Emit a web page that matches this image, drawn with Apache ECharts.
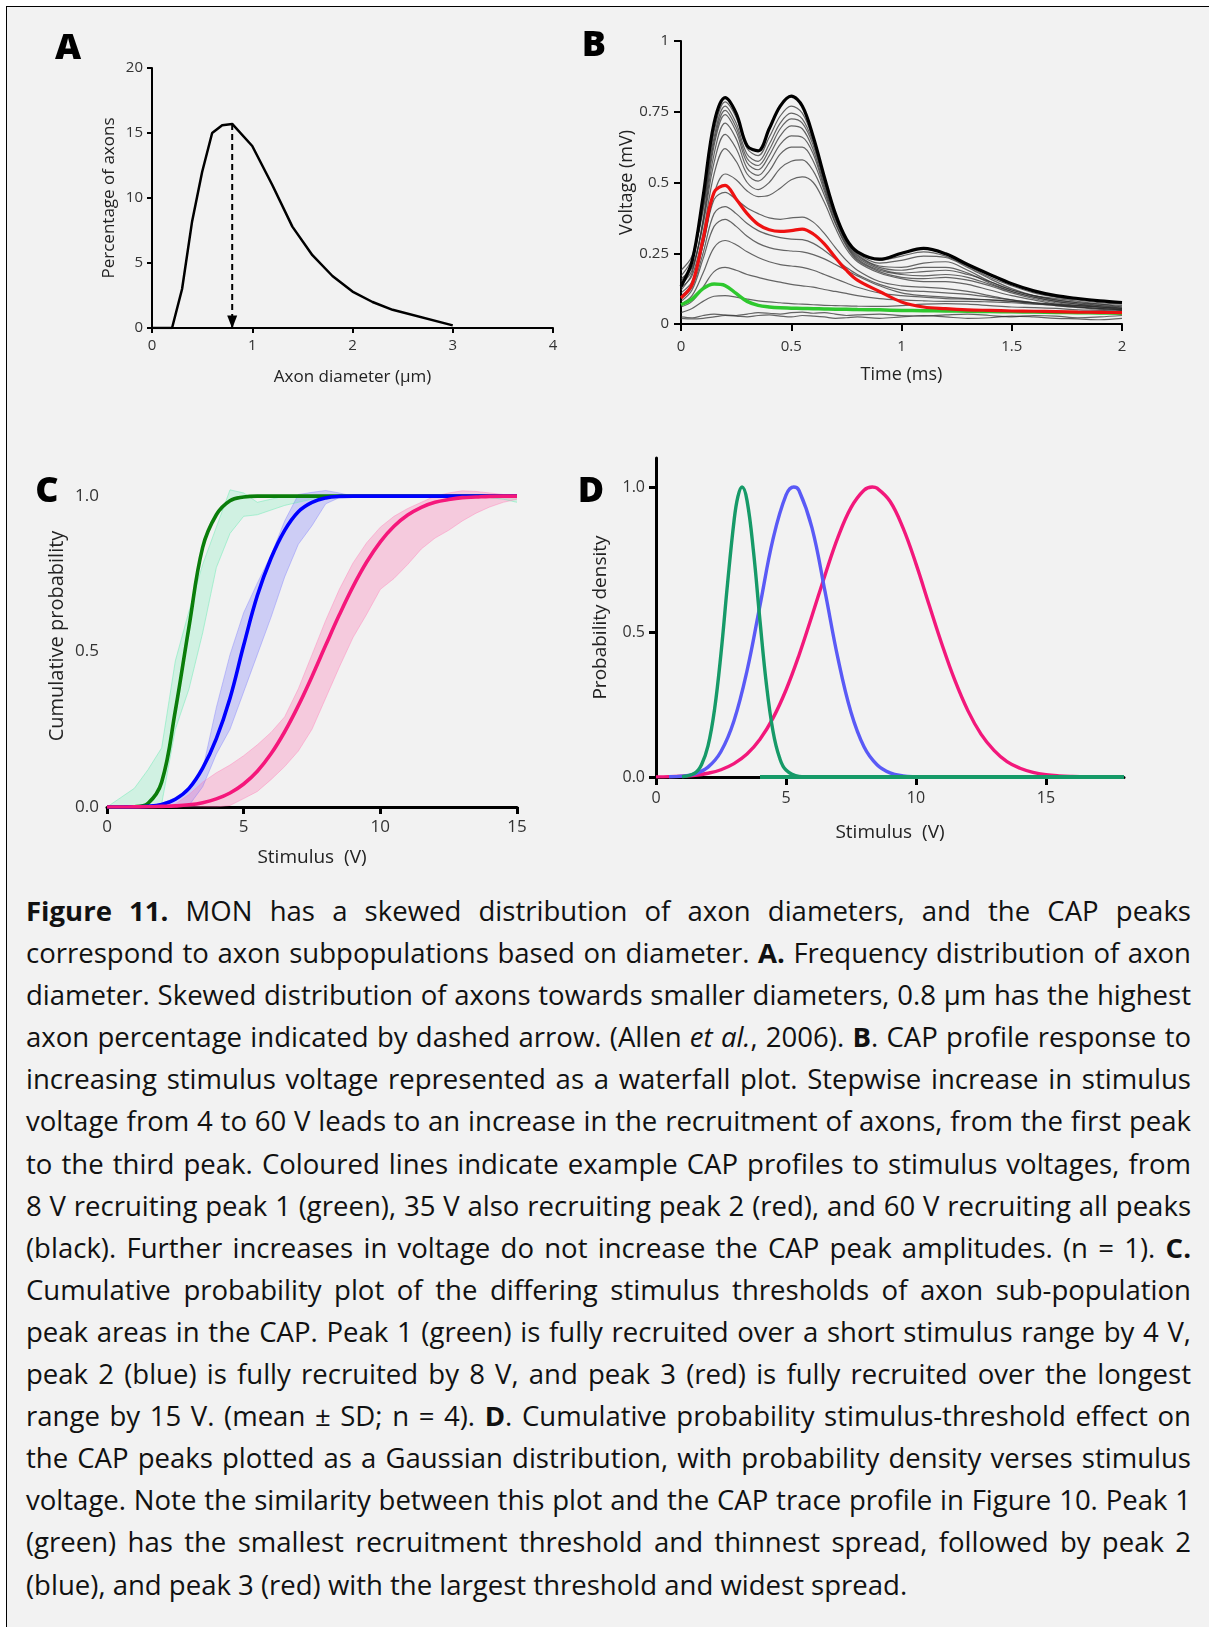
<!DOCTYPE html>
<html><head><meta charset="utf-8">
<script src="https://cdn.jsdelivr.net/npm/echarts@6/dist/echarts.min.js"></script>
<style>
html,body{margin:0;padding:0;background:#fff;}
#frame{position:absolute;left:6px;top:6px;width:1203px;height:1621px;background:#f2f2f2;border-top:1px solid #000;border-left:1px solid #000;box-sizing:border-box;}
#chart{position:absolute;left:0;top:0;width:1209px;height:880px;}
#caption{position:absolute;left:26px;top:890px;width:1165px;font-family:'Open Sans',sans-serif;color:#111;font-size:24px;line-height:42.1px;}
#caption .ln{text-align:justify;text-align-last:justify;height:42.1px;white-space:nowrap;}
#caption .ln.last{text-align-last:left;}
</style></head><body>
<div id="frame"></div>
<div id="chart"></div>
<div id="caption"></div>
<script>
// ---------- Panel A: axon diameter distribution ----------
const diamA = [0, 0.2, 0.3, 0.4, 0.5, 0.6, 0.7, 0.8, 1.0, 1.2, 1.4, 1.6, 1.8, 2.0, 2.2, 2.4, 3.0];
const pctA  = [0, 0, 3.0, 8.2, 12.0, 15.0, 15.6, 15.7, 14.0, 11.0, 7.8, 5.6, 4.0, 2.8, 2.0, 1.4, 0.2];

// ---------- Panel B: CAP waterfall (time in ms, voltage in mV) ----------
const tB = [0,0.05,0.1,0.15,0.2,0.25,0.3,0.35,0.4,0.45,0.5,0.55,0.6,0.65,0.7,0.75,0.8,0.9,1.0,1.1,1.2,1.3,1.4,1.5,1.6,1.7,1.8,1.9,2.0];
const black60V = [0.133,0.22,0.45,0.71,0.80,0.745,0.63,0.612,0.69,0.77,0.805,0.77,0.661,0.52,0.39,0.30,0.255,0.229,0.25,0.267,0.248,0.21,0.175,0.142,0.117,0.1,0.09,0.082,0.076];
const red35V   = [0.092,0.14,0.30,0.465,0.49,0.442,0.39,0.352,0.333,0.327,0.33,0.335,0.318,0.283,0.235,0.19,0.155,0.115,0.078,0.06,0.054,0.05,0.048,0.046,0.045,0.044,0.042,0.041,0.04];
const green8V  = [0.068,0.088,0.125,0.141,0.136,0.108,0.08,0.066,0.06,0.057,0.056,0.055,0.054,0.053,0.052,0.052,0.051,0.05,0.048,0.047,0.046,0.045,0.044,0.043,0.042,0.041,0.04,0.039,0.038];
const grayU1 = [0.15,0.22,0.42,0.68,0.785,0.73,0.62,0.595,0.66,0.735,0.77,0.745,0.65,0.51,0.39,0.30,0.255,0.225,0.24,0.255,0.24,0.205,0.165,0.135,0.11,0.095,0.085,0.075,0.07];
const grayU2 = [0.17,0.23,0.41,0.66,0.77,0.71,0.60,0.575,0.635,0.71,0.745,0.725,0.64,0.505,0.385,0.30,0.25,0.215,0.225,0.24,0.235,0.20,0.16,0.125,0.10,0.085,0.075,0.07,0.06];
const grayU3 = [0.19,0.24,0.40,0.645,0.755,0.695,0.585,0.56,0.615,0.69,0.725,0.71,0.63,0.50,0.38,0.295,0.245,0.205,0.20,0.215,0.22,0.19,0.15,0.12,0.10,0.09,0.08,0.07,0.065];
const grayU4 = [0.12,0.18,0.37,0.63,0.74,0.68,0.57,0.545,0.595,0.665,0.70,0.69,0.615,0.49,0.375,0.29,0.24,0.20,0.19,0.20,0.20,0.18,0.145,0.115,0.095,0.08,0.07,0.065,0.06];
const grayU5 = [0.14,0.19,0.36,0.60,0.71,0.655,0.55,0.525,0.57,0.635,0.665,0.66,0.60,0.48,0.37,0.285,0.235,0.195,0.18,0.185,0.19,0.175,0.15,0.12,0.10,0.085,0.075,0.065,0.055];
const grayU6 = [0.16,0.20,0.35,0.57,0.67,0.62,0.53,0.505,0.54,0.60,0.625,0.625,0.575,0.47,0.36,0.28,0.23,0.19,0.175,0.17,0.175,0.165,0.14,0.115,0.095,0.08,0.07,0.06,0.055];
const grayU7 = [0.13,0.17,0.32,0.53,0.62,0.575,0.50,0.475,0.50,0.55,0.575,0.58,0.54,0.455,0.355,0.275,0.225,0.185,0.165,0.16,0.165,0.155,0.135,0.11,0.09,0.075,0.065,0.06,0.05];
const grayU8 = [0.11,0.15,0.28,0.46,0.53,0.51,0.47,0.45,0.455,0.48,0.51,0.52,0.50,0.43,0.34,0.265,0.22,0.18,0.16,0.15,0.15,0.14,0.12,0.10,0.085,0.07,0.06,0.055,0.05];
const grayL1 = [0.10,0.14,0.28,0.44,0.465,0.44,0.41,0.39,0.375,0.37,0.375,0.378,0.36,0.32,0.27,0.225,0.19,0.15,0.135,0.13,0.125,0.115,0.10,0.085,0.075,0.065,0.058,0.052,0.048];
const grayL2 = [0.09,0.13,0.25,0.39,0.415,0.39,0.355,0.33,0.315,0.305,0.30,0.298,0.285,0.26,0.23,0.20,0.175,0.14,0.12,0.115,0.11,0.105,0.095,0.085,0.075,0.068,0.06,0.055,0.05];
const grayL3 = [0.08,0.12,0.23,0.345,0.37,0.345,0.31,0.285,0.27,0.262,0.258,0.255,0.245,0.23,0.21,0.19,0.17,0.135,0.11,0.10,0.095,0.09,0.085,0.08,0.072,0.065,0.06,0.055,0.05];
const grayL4 = [0.07,0.10,0.18,0.27,0.295,0.28,0.255,0.235,0.22,0.21,0.205,0.20,0.19,0.175,0.16,0.145,0.13,0.11,0.10,0.095,0.09,0.088,0.085,0.08,0.075,0.07,0.065,0.06,0.055];
const grayL5 = [0.06,0.08,0.13,0.185,0.20,0.19,0.175,0.165,0.155,0.148,0.14,0.135,0.13,0.122,0.115,0.108,0.10,0.09,0.085,0.082,0.08,0.08,0.078,0.075,0.07,0.068,0.065,0.06,0.055];
const grayL6 = [0.04,0.055,0.08,0.098,0.10,0.095,0.088,0.082,0.078,0.075,0.072,0.07,0.068,0.066,0.065,0.064,0.063,0.062,0.065,0.07,0.072,0.07,0.065,0.06,0.058,0.055,0.05,0.048,0.045];
const grayL7 = [0.025,0.022,0.03,0.035,0.032,0.03,0.035,0.04,0.038,0.035,0.04,0.042,0.038,0.04,0.035,0.03,0.032,0.035,0.03,0.028,0.032,0.035,0.03,0.025,0.03,0.028,0.022,0.025,0.03];
const grayL8 = [0.02,0.018,0.02,0.025,0.03,0.028,0.025,0.03,0.032,0.028,0.025,0.03,0.028,0.025,0.02,0.022,0.025,0.02,0.025,0.03,0.025,0.02,0.022,0.028,0.025,0.02,0.018,0.015,0.02];
const grayTraces = [grayU1,grayU2,grayU3,grayU4,grayU5,grayU6,grayU7,grayU8,grayL1,grayL2,grayL3,grayL4,grayL5,grayL6,grayL7,grayL8];

// ---------- Panel C: cumulative probability vs stimulus (V) ----------
const stimC = [0,0.5,1,1.5,2,2.5,3,3.5,4,4.5,5,5.5,6,6.5,7,7.5,8,8.5,9,9.5,10,10.5,11,11.5,12,12.5,13,13.5,14,14.5,15];
const peak1Fit = [0,0,0.001,0.012,0.08,0.31,0.58,0.835,0.94,0.985,0.997,1,1,1,1,1,1,1,1,1,1,1,1,1,1,1,1,1,1,1,1];
const peak2Fit = [0,0,0.0005,0.002,0.008,0.025,0.06,0.125,0.22,0.35,0.52,0.68,0.8,0.89,0.95,0.98,0.994,0.999,1,1,1,1,1,1,1,1,1,1,1,1,1];
const peak3Fit = [0,0,0.0003,0.0007,0.002,0.0035,0.007,0.014,0.026,0.045,0.074,0.115,0.171,0.242,0.326,0.42,0.52,0.618,0.709,0.788,0.853,0.903,0.939,0.964,0.98,0.989,0.995,0.997,0.999,1,1];
const peak1Lo = [0,0,0,0.002,0.01,0.25,0.38,0.56,0.77,0.88,0.935,0.94,0.955,0.97,0.98,0.99,0.995,1,1,1,1,1,1,1,1,1,1,1,0.995,0.99,0.98];
const peak1Hi = [0,0.03,0.06,0.12,0.19,0.47,0.63,0.78,0.9,1.02,1.01,0.98,0.99,1,1,1,1,1,1,1,1,1,1,1,1,1,1,1,1,1,1];
const peak2Lo = [0,0,0,0,0,0,0.005,0.065,0.17,0.25,0.37,0.49,0.61,0.74,0.845,0.905,0.975,0.995,1,1,1,1,1,1,1,1,1,1,1,1,1];
const peak2Hi = [0,0,0,0.005,0.012,0.03,0.06,0.12,0.32,0.49,0.625,0.72,0.81,0.92,1.005,1.012,1.018,1.01,1,1,1,1,1,1,1,1,1,1,1,1,1];
const peak3Lo = [0,0,0,0,0,0,0,0,0,0.005,0.027,0.05,0.088,0.13,0.18,0.25,0.35,0.45,0.545,0.62,0.7,0.735,0.78,0.83,0.865,0.89,0.92,0.945,0.965,0.98,0.99];
const peak3Hi = [0,0,0,0,0,0.01,0.04,0.08,0.11,0.135,0.165,0.2,0.24,0.29,0.38,0.49,0.6,0.7,0.785,0.85,0.9,0.935,0.96,0.98,1,1.01,1.017,1.015,1.01,1.005,1];

// ---------- Panel D: probability density vs stimulus (V) ----------
const stimDgreen = [1.0,1.5,1.75,2.0,2.25,2.5,2.75,3.0,3.15,3.31,3.5,3.75,4.0,4.25,4.5,4.75,5.0,5.5,6.0];
const densGreen  = [0.001,0.014,0.042,0.107,0.232,0.426,0.665,0.882,0.967,1.0,0.954,0.777,0.538,0.317,0.158,0.067,0.024,0.002,0];
const stimDblue  = [0.5,1,1.5,2,2.5,3,3.5,4,4.5,5,5.3,5.5,6,6.5,7,7.5,8,8.5,9,9.5,10,10.5,11];
const densBlue   = [0.001,0.003,0.011,0.034,0.088,0.194,0.366,0.592,0.82,0.972,1.0,0.988,0.859,0.64,0.408,0.223,0.104,0.042,0.014,0.004,0.001,0,0];
const stimDpink  = [0,0.5,1,1.5,2,2.5,3,3.5,4,4.5,5,5.5,6,6.5,7,7.5,8,8.32,8.5,9,9.5,10,10.5,11,11.5,12,12.5,13,13.5,14,14.5,15,15.5,16,16.5,17,18];
const densPink   = [0.0005,0.0013,0.003,0.006,0.013,0.025,0.046,0.079,0.13,0.203,0.30,0.42,0.556,0.696,0.827,0.929,0.989,1.0,0.996,0.951,0.859,0.735,0.595,0.457,0.332,0.228,0.148,0.092,0.053,0.03,0.016,0.008,0.004,0.002,0.001,0,0];
const baseGreenX = [4, 18];
const baseGreenY = [0, 0];

// ---------- Caption ----------
const captionLines = [
 '<b>Figure 11.</b> MON has a skewed distribution of axon diameters, and the CAP peaks',
 'correspond to axon subpopulations based on diameter. <b>A.</b> Frequency distribution of axon',
 'diameter. Skewed distribution of axons towards smaller diameters, 0.8 µm has the highest',
 'axon percentage indicated by dashed arrow. (Allen <i>et al.</i>, 2006). <b>B</b>. CAP profile response to',
 'increasing stimulus voltage represented as a waterfall plot. Stepwise increase in stimulus',
 'voltage from 4 to 60 V leads to an increase in the recruitment of axons, from the first peak',
 'to the third peak. Coloured lines indicate example CAP profiles to stimulus voltages, from',
 '8 V recruiting peak 1 (green), 35 V also recruiting peak 2 (red), and 60 V recruiting all peaks',
 '(black). Further increases in voltage do not increase the CAP peak amplitudes. (n = 1). <b>C.</b>',
 'Cumulative probability plot of the differing stimulus thresholds of axon sub-population',
 'peak areas in the CAP. Peak 1 (green) is fully recruited over a short stimulus range by 4 V,',
 'peak 2 (blue) is fully recruited by 8 V, and peak 3 (red) is fully recruited over the longest',
 'range by 15 V. (mean ± SD; n = 4). <b>D</b>. Cumulative probability stimulus-threshold effect on',
 'the CAP peaks plotted as a Gaussian distribution, with probability density verses stimulus',
 'voltage. Note the similarity between this plot and the CAP trace profile in Figure 10. Peak 1',
 '(green) has the smallest recruitment threshold and thinnest spread, followed by peak 2',
 '(blue), and peak 3 (red) with the largest threshold and widest spread.'
];

// ================= build =================
const FONT = "'Open Sans', sans-serif";
const pairs = (xs, ys) => xs.map((x, i) => [x, ys[i]]);

function axisBase(o) {
  return Object.assign({
    nameLocation: 'middle',
    nameTextStyle: { fontSize: 17, color: '#222', fontFamily: FONT },
    axisLine: { onZero: false, lineStyle: { color: '#000', width: 2 } },
    axisTick: { length: 5, lineStyle: { color: '#000', width: 2 } },
    axisLabel: { fontSize: 15, color: '#333', fontFamily: FONT, margin: 9 },
    splitLine: { show: false }
  }, o);
}

const peakIdx = pctA.indexOf(Math.max(...pctA));
const peakX = diamA[peakIdx], peakY = pctA[peakIdx];

const series = [];
// A
series.push({ type: 'line', xAxisIndex: 0, yAxisIndex: 0, data: pairs(diamA, pctA), symbol: 'none',
  lineStyle: { color: '#000', width: 2.5 }, z: 3 });
series.push({ type: 'line', xAxisIndex: 0, yAxisIndex: 0,
  data: [{ value: [peakX, peakY], symbol: 'none' },
         { value: [peakX, 0], symbol: 'triangle', symbolRotate: 180, symbolSize: [10, 13], symbolOffset: [0, -6] }],
  lineStyle: { color: '#000', width: 2, type: [6, 4] }, itemStyle: { color: '#000' }, z: 4 });
// B gray traces
grayTraces.forEach(tr => series.push({ type: 'line', xAxisIndex: 1, yAxisIndex: 1, data: pairs(tB, tr), symbol: 'none',
  smooth: 0.35, lineStyle: { color: 'rgba(45,45,45,0.72)', width: 1.2 }, z: 2 }));
series.push({ type: 'line', xAxisIndex: 1, yAxisIndex: 1, data: pairs(tB, black60V), symbol: 'none', smooth: 0.35,
  lineStyle: { color: '#000', width: 3.2 }, z: 3 });
series.push({ type: 'line', xAxisIndex: 1, yAxisIndex: 1, data: pairs(tB, green8V), symbol: 'none', smooth: 0.35,
  lineStyle: { color: '#2ec82e', width: 3.5 }, z: 4 });
series.push({ type: 'line', xAxisIndex: 1, yAxisIndex: 1, data: pairs(tB, red35V), symbol: 'none', smooth: 0.35,
  lineStyle: { color: '#ee1111', width: 3.2 }, z: 5 });
// C bands
const bands = [
  { lo: peak1Lo, hi: peak1Hi, fill: 'rgba(130,240,190,0.30)', edge: 'rgba(120,235,185,0.55)', st: 'b1' },
  { lo: peak2Lo, hi: peak2Hi, fill: 'rgba(100,100,255,0.26)', edge: 'rgba(110,110,255,0.35)', st: 'b2' },
  { lo: peak3Lo, hi: peak3Hi, fill: 'rgba(255,100,170,0.28)', edge: 'rgba(255,120,180,0.40)', st: 'b3' }
];
bands.forEach(b => {
  series.push({ type: 'line', xAxisIndex: 2, yAxisIndex: 2, stack: b.st, data: b.lo, symbol: 'none',
    lineStyle: { color: b.edge, width: 1 }, z: 1 });
  series.push({ type: 'line', xAxisIndex: 2, yAxisIndex: 2, stack: b.st, data: b.hi.map((v, i) => v - b.lo[i]), symbol: 'none',
    lineStyle: { color: b.edge, width: 1 }, areaStyle: { color: b.fill, opacity: 1 }, z: 1 });
});
[[peak1Fit, '#0a7d0a'], [peak2Fit, '#0000ff'], [peak3Fit, '#f5177b']].forEach(([d, c]) =>
  series.push({ type: 'line', xAxisIndex: 2, yAxisIndex: 2, data: d, symbol: 'none', smooth: 0.4,
    lineStyle: { color: c, width: 3.6 }, z: 3 }));
// D
series.push({ type: 'line', xAxisIndex: 3, yAxisIndex: 3, data: pairs(stimDpink, densPink), symbol: 'none', smooth: 0.4,
  lineStyle: { color: '#f2187b', width: 3.4 }, z: 3 });
series.push({ type: 'line', xAxisIndex: 3, yAxisIndex: 3, data: pairs(stimDblue, densBlue), symbol: 'none', smooth: 0.4,
  lineStyle: { color: '#5a5af6', width: 3.4 }, z: 3 });
series.push({ type: 'line', xAxisIndex: 3, yAxisIndex: 3, data: pairs(stimDgreen, densGreen), symbol: 'none', smooth: 0.4,
  lineStyle: { color: '#169a68', width: 3.4 }, z: 3 });
series.push({ type: 'line', xAxisIndex: 3, yAxisIndex: 3, data: pairs(baseGreenX, baseGreenY), symbol: 'none',
  lineStyle: { color: '#169a68', width: 4 }, z: 4 });

const letterStyle = { font: "800 36px 'Open Sans', sans-serif", fill: '#000', textAlign: 'center', textVerticalAlign: 'middle' };

const option = {
  animation: false,
  textStyle: { fontFamily: FONT },
  grid: [
    { left: 152, top: 68, width: 401, height: 260 },
    { left: 681, top: 41, width: 441, height: 283 },
    { left: 107, top: 465, width: 410, height: 342 },
    { left: 656, top: 458, width: 468, height: 319 }
  ],
  xAxis: [
    axisBase({ gridIndex: 0, type: 'value', min: 0, max: 4, interval: 1, name: 'Axon diameter (µm)', nameGap: 41,
      axisLabel: { fontSize: 15, color: '#333', fontFamily: FONT, margin: 10 } }),
    axisBase({ gridIndex: 1, type: 'value', min: 0, max: 2, interval: 0.5, name: 'Time (ms)', nameGap: 42,
      nameTextStyle: { fontSize: 18, color: '#222', fontFamily: FONT },
      axisTick: { length: 7, lineStyle: { color: '#000', width: 2 } },
      axisLabel: { fontSize: 15, color: '#333', fontFamily: FONT, margin: 15 } }),
    axisBase({ gridIndex: 2, type: 'category', data: stimC.map(String), boundaryGap: false, name: 'Stimulus  (V)', nameGap: 41,
      nameTextStyle: { fontSize: 19, color: '#222', fontFamily: FONT },
      axisLine: { onZero: false, lineStyle: { color: '#000', width: 3 } },
      axisTick: { length: 7, interval: 9, lineStyle: { color: '#000', width: 3 } },
      axisLabel: { fontSize: 17, color: '#333', fontFamily: FONT, margin: 12, interval: 9 } }),
    axisBase({ gridIndex: 3, type: 'value', min: 0, max: 18, name: 'Stimulus  (V)', nameGap: 46,
      nameTextStyle: { fontSize: 19, color: '#222', fontFamily: FONT },
      axisLine: { onZero: false, lineStyle: { color: '#000', width: 3 } },
      axisTick: { length: 8, customValues: [0, 5, 10, 15], lineStyle: { color: '#000', width: 3 } },
      axisLabel: { fontSize: 16, color: '#333', fontFamily: FONT, margin: 13, customValues: [0, 5, 10, 15] } })
  ],
  yAxis: [
    axisBase({ gridIndex: 0, type: 'value', min: 0, max: 20, interval: 5, name: 'Percentage of axons', nameGap: 34 }),
    axisBase({ gridIndex: 1, type: 'value', min: 0, max: 1, interval: 0.25, name: 'Voltage (mV)', nameGap: 44,
      nameTextStyle: { fontSize: 18, color: '#222', fontFamily: FONT },
      axisTick: { length: 7, lineStyle: { color: '#000', width: 2 } },
      axisLabel: { fontSize: 15, color: '#333', fontFamily: FONT, margin: 12 } }),
    axisBase({ gridIndex: 2, type: 'value', min: 0, max: 1.1, name: 'Cumulative probability', nameGap: 40,
      nameTextStyle: { fontSize: 20, color: '#222', fontFamily: FONT },
      axisLine: { onZero: false, lineStyle: { color: '#000', width: 3 } },
      axisTick: { length: 7, customValues: [0, 0.5, 1], lineStyle: { color: '#000', width: 3 } },
      axisLabel: { fontSize: 17, color: '#333', fontFamily: FONT, margin: 8, customValues: [0, 0.5, 1], formatter: v => v.toFixed(1) } }),
    axisBase({ gridIndex: 3, type: 'value', min: 0, max: 1.1, name: 'Probability density', nameGap: 46,
      nameTextStyle: { fontSize: 19, color: '#222', fontFamily: FONT },
      axisLine: { onZero: false, lineStyle: { color: '#000', width: 3 } },
      axisTick: { length: 7, customValues: [0, 0.5, 1], lineStyle: { color: '#000', width: 3 } },
      axisLabel: { fontSize: 16, color: '#333', fontFamily: FONT, margin: 11, customValues: [0, 0.5, 1], formatter: v => v.toFixed(1) } })
  ],
  graphic: [
    { type: 'text', x: 68, y: 49, style: Object.assign({ text: 'A' }, letterStyle) },
    { type: 'text', x: 594, y: 46, style: Object.assign({ text: 'B' }, letterStyle) },
    { type: 'text', x: 47, y: 492, style: Object.assign({ text: 'C' }, letterStyle) },
    { type: 'text', x: 591, y: 492, style: Object.assign({ text: 'D' }, letterStyle) }
  ],
  series: series
};

const chart = echarts.init(document.getElementById('chart'), null, { renderer: 'canvas' });
chart.setOption(option);

// caption
const cap = document.getElementById('caption');
captionLines.forEach((h, i) => {
  const d = document.createElement('div');
  d.className = 'ln' + (i === captionLines.length - 1 ? ' last' : '');
  d.innerHTML = h;
  cap.appendChild(d);
});
const probe = document.createElement('span');
probe.style.cssText = "position:absolute;visibility:hidden;white-space:nowrap;font-family:'Open Sans',sans-serif;font-size:24px;left:0;top:0";
document.body.appendChild(probe);
let maxW = 0, lastW = 0;
captionLines.forEach((h, i) => {
  probe.innerHTML = h;
  const w = probe.getBoundingClientRect().width;
  if (i === captionLines.length - 1) lastW = w; else maxW = Math.max(maxW, w);
});
probe.remove();
let fs = 24 * 889 / lastW;
fs = Math.min(fs, 24 * 1158 / maxW);
cap.style.fontSize = fs.toFixed(2) + 'px';
</script></body></html>
